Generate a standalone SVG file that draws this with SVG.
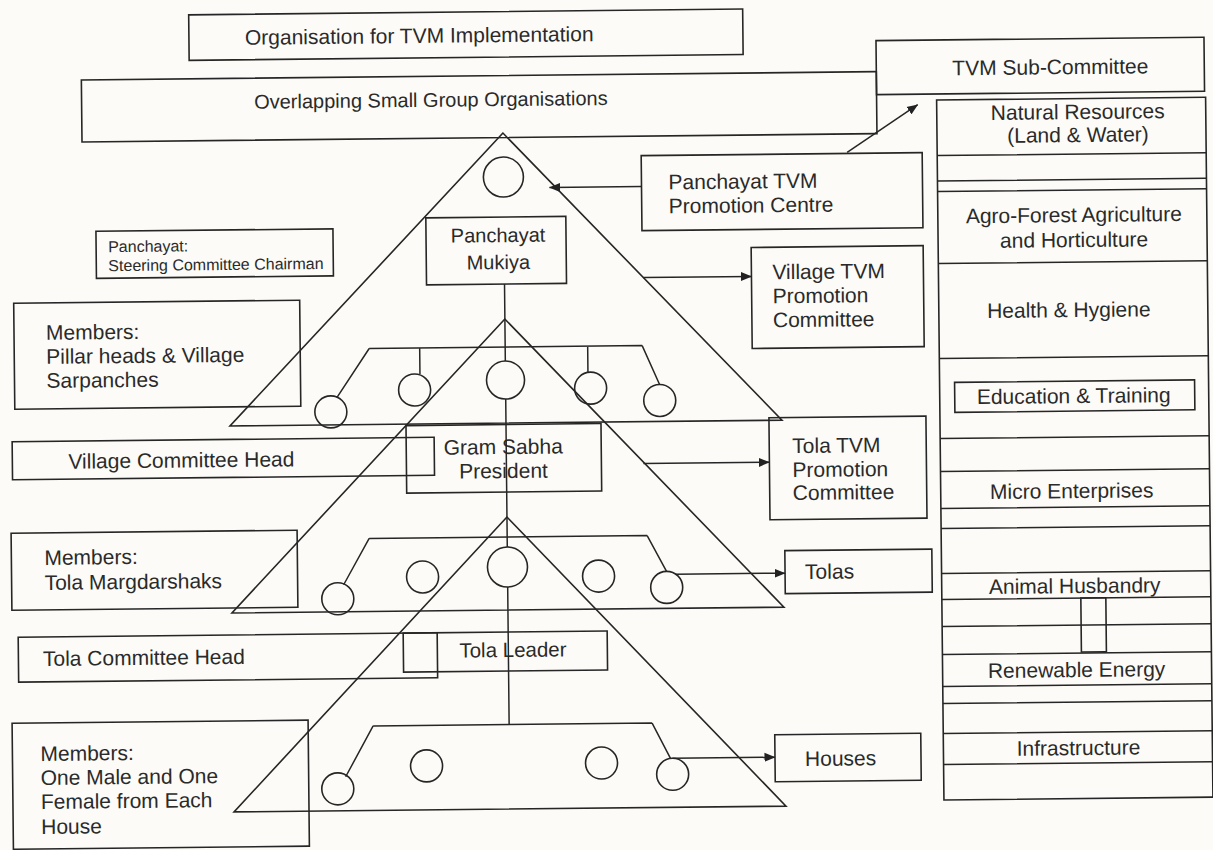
<svg xmlns="http://www.w3.org/2000/svg" width="1213" height="850" viewBox="0 0 1213 850">
<defs>
<style>
.b{fill:none;stroke:#262626;stroke-width:1.6}
.l{fill:none;stroke:#262626;stroke-width:1.5}
.c{fill:none;stroke:#262626;stroke-width:1.6}
text{font-family:"Liberation Sans",Arial,Helvetica,sans-serif;font-size:21px;fill:#2a2a2a}
.m{text-anchor:middle}
.s{font-size:16px}
.t{font-size:20px}
</style>
<marker id="ah" viewBox="0 0 11 10" refX="10.5" refY="5" markerWidth="11" markerHeight="10" markerUnits="userSpaceOnUse" orient="auto"><path d="M0,0.5 L11,5 L0,9.5 z" fill="#222"/></marker>
</defs>
<rect width="1213" height="850" fill="#fcfbf7"/>
<g id="diagram" transform="rotate(-0.6 606 425)">

<g id="org-title"><rect class="b" x="193" y="10.5" width="554" height="45.5"/><text x="249" y="41">Organisation for TVM Implementation</text></g>
<g id="overlapping"><rect class="b" x="85" y="74.5" width="795" height="62"/><text class="t" x="257.5" y="105">Overlapping Small Group Organisations</text></g>
<g id="sub-committee"><rect class="b" x="880" y="43.5" width="328" height="54"/><text x="956" y="79">TVM Sub-Committee</text></g>

<g id="sectors">
<rect class="b" x="940" y="103.5" width="269" height="700"/>
<path class="l" d="M940,159H1209M940,184.5H1209M940,195H1209M940,267H1209M940,362H1209M940,442H1209M940,475H1209M940,512H1209M940,532H1209M940,577H1209M940,603H1209M940,630H1209M940,658H1209M940,690H1209M940,707H1209M940,737H1209M940,768H1209"/>
<rect class="b" x="955" y="386" width="240" height="30"/>
<rect class="b" x="1079" y="603" width="25" height="54"/>
<text class="m" x="1081" y="124">Natural Resources</text>
<text class="m" x="1081" y="147">(Land &amp; Water)</text>
<text class="m" x="1076" y="227">Agro-Forest Agriculture</text>
<text class="m" x="1076" y="252">and Horticulture</text>
<text class="m" x="1070" y="322">Health &amp; Hygiene</text>
<text class="m" x="1074" y="408">Education &amp; Training</text>
<text class="m" x="1071" y="503">Micro Enterprises</text>
<text class="m" x="1073" y="598">Animal Husbandry</text>
<text class="m" x="1074" y="682">Renewable Energy</text>
<text class="m" x="1075" y="760">Infrastructure</text>
</g>

<g id="panchayat-level">
<polygon class="b" points="506,132 230,422 782,422"/>
<circle class="c" cx="506" cy="176" r="20"/>
<path class="l" d="M370,346H643M370,346L337,395M643,346L660,385M420.5,346V372M588.5,346V372"/>
<circle class="c" cx="331" cy="409" r="16"/>
<circle class="c" cx="415" cy="388" r="16"/>
<circle class="c" cx="506" cy="379" r="19"/>
<circle class="c" cx="591" cy="388" r="16"/>
<circle class="c" cx="660" cy="401" r="16"/>
</g>
<g id="mukiya"><rect class="b" x="428" y="216" width="140" height="67"/><text class="m t" x="500" y="241">Panchayat</text><text class="m t" x="500" y="268">Mukiya</text></g>
<g id="steering"><rect class="b" x="98" y="226" width="237" height="47"/><text class="s" x="110" y="247">Panchayat:</text><text class="s" x="110" y="266">Steering Committee Chairman</text></g>
<g id="pillar-members"><rect class="b" x="15" y="297" width="286" height="106"/><text x="47" y="334">Members:</text><text x="47" y="358">Pillar heads &amp; Village</text><text x="47" y="382">Sarpanches</text></g>
<g id="ptvm-centre"><rect class="b" x="644" y="156" width="281" height="75"/><text x="671" y="190">Panchayat TVM</text><text x="671" y="214">Promotion Centre</text></g>
<g id="village-tvm"><rect class="b" x="753" y="249" width="172" height="101"/><text x="774" y="281">Village TVM</text><text x="774" y="305">Promotion</text><text x="774" y="329">Committee</text></g>

<g id="village-level">
<polygon class="b" points="506,318 230,609 782,609"/>
<path class="l" d="M368,536H646M368,536L342,582M646,536L665,572"/>
<circle class="c" cx="336" cy="596" r="16"/>
<circle class="c" cx="421" cy="575" r="16"/>
<circle class="c" cx="506" cy="566" r="20"/>
<circle class="c" cx="597" cy="576" r="16"/>
<circle class="c" cx="665" cy="588" r="16"/>
</g>
<g id="village-head"><rect class="b" x="12" y="435.5" width="422" height="38"/><text x="68" y="463">Village Committee Head</text></g>
<g id="gram-sabha"><rect class="b" x="406" y="423.5" width="195" height="67.5"/><text class="m" x="503" y="453">Gram Sabha</text><text class="m" x="503" y="477">President</text></g>
<g id="tola-tvm"><rect class="b" x="769" y="419.5" width="157" height="102"/><text x="792" y="455">Tola TVM</text><text x="792" y="479">Promotion</text><text x="792" y="502">Committee</text></g>
<g id="tola-members"><rect class="b" x="10" y="527" width="286" height="77"/><text x="43" y="559">Members:</text><text x="43" y="584">Tola Margdarshaks</text></g>
<g id="tolas"><rect class="b" x="783.5" y="552.5" width="147" height="43"/><text x="803.5" y="581">Tolas</text></g>

<g id="tola-level">
<polygon class="b" points="506,516 230,808 782,808"/>
<path class="l" d="M370,723.5H649M370,723.5L342,774M649,723.5L667,759"/>
<circle class="c" cx="334" cy="786" r="16"/>
<circle class="c" cx="423" cy="764" r="16"/>
<circle class="c" cx="598" cy="763" r="16"/>
<circle class="c" cx="669" cy="775" r="16"/>
</g>
<g id="tola-head"><rect class="b" x="16" y="631" width="419" height="45"/><text x="40.5" y="660">Tola Committee Head</text></g>
<g id="tola-leader"><rect class="b" x="401" y="631" width="204" height="39"/><text x="457" y="656" style="font-size:20.5px">Tola Leader</text></g>
<g id="house-members"><rect class="b" x="9" y="717" width="296" height="126"/><text x="37" y="755">Members:</text><text x="37" y="779">One Male and One</text><text x="37" y="803">Female from Each</text><text x="37" y="828">House</text></g>
<g id="houses"><rect class="b" x="771.5" y="736.5" width="146" height="47"/><text x="801.5" y="768">Houses</text></g>

<g id="connectors">
<path class="l" d="M506,283V360M506,398V546M506,586V723.5"/>
<path class="l" marker-end="url(#ah)" d="M644,187H552"/>
<path class="l" marker-end="url(#ah)" d="M850,155L921,108"/>
<path class="l" marker-end="url(#ah)" d="M645,278H753"/>
<path class="l" marker-end="url(#ah)" d="M643,464H769"/>
<path class="l" marker-end="url(#ah)" d="M674,575H783.5"/>
<path class="l" marker-end="url(#ah)" d="M669,759H771.5"/>
</g>
</g>
</svg>
